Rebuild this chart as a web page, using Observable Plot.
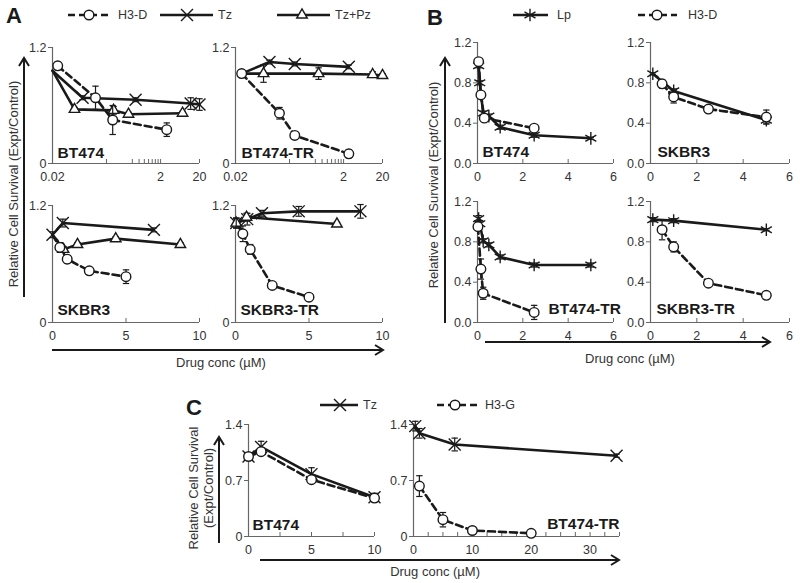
<!DOCTYPE html>
<html>
<head>
<meta charset="utf-8">
<script src="https://cdn.jsdelivr.net/npm/d3@7"></script>
<script src="https://cdn.jsdelivr.net/npm/@observablehq/plot@0.6"></script>
<style>
  html, body { margin: 0; padding: 0; background: #fff; }
  #root { position: relative; width: 800px; height: 583px; overflow: hidden; background: #fff;
          font-family: "Liberation Sans", Arial, Helvetica, sans-serif; }
  #root svg.panel { position: absolute; }
</style>
</head>
<body>
<div id="root"></div>
<script>
// ---------------- DATA ----------------
// Panel A (log x), BT474
const aBT474_H3D_x = [0.025, 0.125, 0.26, 2.6];
const aBT474_H3D_y = [1.01, 0.68, 0.45, 0.35];
const aBT474_H3D_e = [0.04, 0.12, 0.15, 0.07];
const aBT474_Tz_x = [0.02, 0.072, 0.69, 7.2, 10.5];
const aBT474_Tz_y = [0.96, 0.68, 0.66, 0.62, 0.61];
const aBT474_Tz_e = [0, 0.02, 0.02, 0.06, 0.06];
const aBT474_TzPz_x = [0.02, 0.051, 0.27, 0.51, 5.1];
const aBT474_TzPz_y = [0.96, 0.56, 0.55, 0.51, 0.52];
const aBT474_TzPz_e = [0, 0.02, 0.04, 0.02, 0.02];
// Panel A (log x), BT474-TR
const aBT474TR_H3D_x = [0.026, 0.13, 0.25, 2.5];
const aBT474TR_H3D_y = [0.93, 0.52, 0.29, 0.10];
const aBT474TR_H3D_e = [0.04, 0.06, 0.04, 0.04];
const aBT474TR_Tz_x = [0.026, 0.085, 0.25, 2.5];
const aBT474TR_Tz_y = [0.93, 1.05, 1.03, 1.0];
const aBT474TR_Tz_e = [0, 0.02, 0.02, 0.02];
const aBT474TR_TzPz_x = [0.026, 0.066, 0.69, 6.9, 10.5];
const aBT474TR_TzPz_y = [0.93, 0.93, 0.93, 0.92, 0.91];
const aBT474TR_TzPz_e = [0, 0.09, 0.06, 0.03, 0.02];
// Panel A, SKBR3
const aSKBR3_Tz_x = [0, 0.7, 6.9];
const aSKBR3_Tz_y = [0.9, 1.02, 0.95];
const aSKBR3_Tz_e = [0.03, 0.04, 0.02];
const aSKBR3_TzPz_x = [0, 0.75, 1.7, 4.3, 8.7];
const aSKBR3_TzPz_y = [0.9, 0.75, 0.80, 0.86, 0.80];
const aSKBR3_TzPz_e = [0, 0.03, 0.02, 0.02, 0.02];
const aSKBR3_H3D_x = [0, 0.5, 1, 2.5, 5];
const aSKBR3_H3D_y = [0.9, 0.77, 0.65, 0.53, 0.47];
const aSKBR3_H3D_e = [0, 0.05, 0.04, 0.03, 0.07];
// Panel A, SKBR3-TR
const aSKBR3TR_Tz_x = [0.05, 0.8, 1.8, 4.3, 8.5];
const aSKBR3TR_Tz_y = [1.02, 1.06, 1.12, 1.14, 1.14];
const aSKBR3TR_Tz_e = [0.05, 0.06, 0.03, 0.05, 0.07];
const aSKBR3TR_TzPz_x = [0.05, 0.75, 6.9];
const aSKBR3TR_TzPz_y = [1.02, 1.08, 1.01];
const aSKBR3TR_TzPz_e = [0.05, 0.04, 0.02];
const aSKBR3TR_H3D_x = [0.05, 0.5, 1, 2.5, 5];
const aSKBR3TR_H3D_y = [1.02, 0.91, 0.75, 0.38, 0.26];
const aSKBR3TR_H3D_e = [0.05, 0.08, 0.05, 0.02, 0.02];
// Panel B, BT474
const bBT474_Lp_x = [0.05, 0.1, 0.25, 0.5, 1, 2.5, 5];
const bBT474_Lp_y = [0.97, 0.80, 0.50, 0.47, 0.36, 0.28, 0.25];
const bBT474_Lp_e = [0.02, 0.02, 0.02, 0.02, 0.02, 0.02, 0.01];
const bBT474_H3D_x = [0.05, 0.15, 0.3, 2.5];
const bBT474_H3D_y = [1.01, 0.68, 0.45, 0.35];
const bBT474_H3D_e = [0.02, 0.02, 0.02, 0.02];
// Panel B, SKBR3
const bSKBR3_Lp_x = [0.1, 1, 5];
const bSKBR3_Lp_y = [0.89, 0.72, 0.43];
const bSKBR3_Lp_e = [0.01, 0.02, 0.03];
const bSKBR3_H3D_x = [0.5, 1, 2.5, 5];
const bSKBR3_H3D_y = [0.79, 0.66, 0.54, 0.46];
const bSKBR3_H3D_e = [0.04, 0.06, 0.03, 0.07];
// Panel B, BT474-TR
const bBT474TR_Lp_x = [0.05, 0.1, 0.25, 0.5, 1, 2.5, 5];
const bBT474TR_Lp_y = [1.03, 0.98, 0.81, 0.77, 0.65, 0.57, 0.57];
const bBT474TR_Lp_e = [0.03, 0.03, 0.02, 0.02, 0.02, 0.02, 0.02];
const bBT474TR_H3D_x = [0.02, 0.15, 0.25, 2.5];
const bBT474TR_H3D_y = [0.95, 0.53, 0.29, 0.10];
const bBT474TR_H3D_e = [0.03, 0.10, 0.06, 0.07];
// Panel B, SKBR3-TR
const bSKBR3TR_Lp_x = [0.1, 1, 5];
const bSKBR3TR_Lp_y = [1.02, 1.01, 0.92];
const bSKBR3TR_Lp_e = [0.02, 0.02, 0.01];
const bSKBR3TR_H3D_x = [0.5, 1, 2.5, 5];
const bSKBR3TR_H3D_y = [0.92, 0.75, 0.39, 0.27];
const bSKBR3TR_H3D_e = [0.10, 0.05, 0.02, 0.02];
// Panel C, BT474
const cBT474_Tz_x = [0, 1, 5, 10];
const cBT474_Tz_y = [1.0, 1.12, 0.78, 0.49];
const cBT474_Tz_e = [0.03, 0.07, 0.08, 0.05];
const cBT474_H3G_x = [0, 1, 5, 10];
const cBT474_H3G_y = [1.0, 1.06, 0.71, 0.48];
const cBT474_H3G_e = [0.03, 0.03, 0.03, 0.05];
// Panel C, BT474-TR
const cBT474TR_Tz_x = [0.3, 1, 7, 34.5];
const cBT474TR_Tz_y = [1.38, 1.29, 1.15, 1.01];
const cBT474TR_Tz_e = [0.06, 0.06, 0.08, 0.02];
const cBT474TR_H3G_x = [1, 5, 10, 20];
const cBT474TR_H3G_y = [0.63, 0.21, 0.075, 0.04];
const cBT474TR_H3G_e = [0.13, 0.09, 0.03, 0.02];

// tick values / labels
const logTickMarks = [0.02, 0.2, 0.6, 0.8, 1.0, 1.2, 1.4, 1.6, 1.8, 2, 10.5];
const logTickValues = [0.02, 2, 10.5];
const logTickLabels = ["0.02", "2", "20"];
const aYTicks = [0, 1.2];
const lin10Ticks = [0, 5, 10];
const bYTicks = [0, 0.4, 0.8, 1.2];
const bXTicks = [0, 2, 4, 6];
const cYTicks = [0, 0.7, 1.4];
const cLTickMarks = [0, 2.5, 5, 7.5, 10];
const cLTicks = [0, 5, 10];
const cRTickMarks = [0, 2.5, 5, 7.5, 10, 12.5, 15, 17.5, 20, 22.5, 25, 27.5, 30, 32.5, 35];
const cRTicks = [0, 10, 20, 30];

const legendA = ["H3-D", "Tz", "Tz+Pz"];
const legendB = ["Lp", "H3-D"];
const legendC = ["Tz", "H3-G"];
const yTitle = "Relative Cell Survival (Expt/Control)";
const yTitleC = ["Relative Cell Survival", "(Expt/Control)"];
const xTitle = "Drug conc (\u00b5M)";

// ---------------- STYLE ----------------
const INK = "#1a1a1a";
const AX = "#666";
const TXT = "#333";
const FONT = "Liberation Sans, Arial, Helvetica, sans-serif";
const STYLES = {
  "H3-D": {dash: "7,4", symbol: "circle", fill: "white", r: 4.8},
  "H3-G": {dash: "7,4", symbol: "circle", fill: "white", r: 4.8},
  "Tz": {dash: null, symbol: "times", fill: "none", r: 5.5},
  "Tz+Pz": {dash: null, symbol: "triangle", fill: "white", r: 3.9},
  "Lp": {dash: null, symbol: "asterisk", fill: "none", r: 6}
};
const capSymbol = {
  draw(ctx, size) { const r = Math.sqrt(size / Math.PI); ctx.moveTo(-r, 0); ctx.lineTo(r, 0); }
};

function rows(xs, ys, es) { return xs.map((x, i) => ({x, y: ys[i], e: es ? es[i] : 0})); }

const root = document.getElementById("root");

function panel(cfg) {
  const {x0, x1, yb, yt} = cfg.frame;
  const mL = 36, mR = 14, mT = 12, mB = 24;
  const fw = x1 - x0, fh = yb - yt;
  const width = fw + mL + mR, height = fh + mT + mB;
  const fmtMap = cfg.xLabels ? new Map(cfg.xTicks.map((v, i) => [v, cfg.xLabels[i]])) : null;
  const marks = [
    Plot.ruleY([cfg.yDomain[0]], {stroke: AX, strokeWidth: 1.2}),
    Plot.ruleX([cfg.xDomain[0]], {stroke: AX, strokeWidth: 1.2}),
    Plot.axisY({ticks: cfg.yTicks, tickFormat: cfg.yFormat, tickSize: 4, tickPadding: 2,
                stroke: AX, fill: TXT, label: null, fontSize: 12.5}),
    Plot.tickX(cfg.xTickMarks, {x: d => d, insetTop: fh - 4, stroke: AX, strokeWidth: 1}),
    Plot.axisX({ticks: cfg.xTicks, tickFormat: fmtMap ? (d => fmtMap.get(d)) : (d => String(d)),
                tickSize: 0, tickPadding: 9, fill: TXT, label: null, fontSize: 12.5})
  ];
  for (const s of cfg.series) {
    const st = STYLES[s.name];
    marks.push(Plot.line(s.data, {x: "x", y: "y", stroke: INK, strokeWidth: 2.6,
      strokeDasharray: st.dash || undefined, curve: "linear"}));
  }
  for (const s of cfg.series) {
    const st = STYLES[s.name];
    const ed = s.data.filter(d => d.e > 0);
    const md = s.skipFirst ? s.data.slice(1) : s.data;
    marks.push(Plot.ruleX(ed, {x: "x", y1: d => d.y - d.e, y2: d => d.y + d.e, stroke: INK, strokeWidth: 1.2}));
    marks.push(Plot.dot(ed, {x: "x", y: d => d.y + d.e, symbol: capSymbol, r: 3.2, stroke: INK, strokeWidth: 1.2}));
    marks.push(Plot.dot(ed, {x: "x", y: d => d.y - d.e, symbol: capSymbol, r: 3.2, stroke: INK, strokeWidth: 1.2}));
    marks.push(Plot.dot(md, {x: "x", y: "y", symbol: st.symbol, r: st.r, fill: st.fill,
      stroke: INK, strokeWidth: 1.4}));
  }
  marks.push(Plot.text([cfg.label.text], {text: d => d, frameAnchor: cfg.label.anchor,
    textAnchor: cfg.label.textAnchor || "start", lineAnchor: "middle", dx: cfg.label.dx, dy: cfg.label.dy,
    fontWeight: "bold", fontSize: 15.5, fill: INK}));
  const svg = Plot.plot({
    width, height, marginLeft: mL, marginRight: mR, marginTop: mT, marginBottom: mB,
    x: {type: cfg.xType || "linear", domain: cfg.xDomain},
    y: {type: "linear", domain: cfg.yDomain},
    style: {background: "transparent", fontFamily: FONT, fontSize: "12.5px", color: TXT, overflow: "visible"},
    marks
  });
  svg.classList.add("panel");
  svg.style.left = (x0 - mL) + "px";
  svg.style.top = (yt - mT) + "px";
  svg.style.maxWidth = "none";
  root.appendChild(svg);
}

const fmtPlain = d => String(d);
const fmt1 = d3.format(".1f");

// ---- Panel A ----
const aLog = {xType: "log", xDomain: [0.02, 10.5], xTickMarks: logTickMarks, xTicks: logTickValues, xLabels: logTickLabels,
  yDomain: [0, 1.2], yTicks: aYTicks, yFormat: fmtPlain};
panel({...aLog, frame: {x0: 52, x1: 199, yb: 163, yt: 47},
  series: [
    {name: "Tz", data: rows(aBT474_Tz_x, aBT474_Tz_y, aBT474_Tz_e), skipFirst: true},
    {name: "Tz+Pz", data: rows(aBT474_TzPz_x, aBT474_TzPz_y, aBT474_TzPz_e), skipFirst: true},
    {name: "H3-D", data: rows(aBT474_H3D_x, aBT474_H3D_y, aBT474_H3D_e)}],
  label: {text: "BT474", anchor: "bottom-left", dx: 5, dy: -10}});
panel({...aLog, frame: {x0: 235, x1: 382, yb: 163, yt: 47},
  series: [
    {name: "Tz", data: rows(aBT474TR_Tz_x, aBT474TR_Tz_y, aBT474TR_Tz_e), skipFirst: true},
    {name: "Tz+Pz", data: rows(aBT474TR_TzPz_x, aBT474TR_TzPz_y, aBT474TR_TzPz_e), skipFirst: true},
    {name: "H3-D", data: rows(aBT474TR_H3D_x, aBT474TR_H3D_y, aBT474TR_H3D_e)}],
  label: {text: "BT474-TR", anchor: "bottom-left", dx: 6, dy: -10}});
const aLin = {xDomain: [0, 10], xTickMarks: lin10Ticks, xTicks: lin10Ticks, yDomain: [0, 1.2], yTicks: aYTicks, yFormat: fmtPlain};
panel({...aLin, frame: {x0: 52, x1: 199, yb: 322, yt: 205},
  series: [
    {name: "Tz", data: rows(aSKBR3_Tz_x, aSKBR3_Tz_y, aSKBR3_Tz_e)},
    {name: "Tz+Pz", data: rows(aSKBR3_TzPz_x, aSKBR3_TzPz_y, aSKBR3_TzPz_e), skipFirst: true},
    {name: "H3-D", data: rows(aSKBR3_H3D_x, aSKBR3_H3D_y, aSKBR3_H3D_e), skipFirst: true}],
  label: {text: "SKBR3", anchor: "bottom-left", dx: 5, dy: -12}});
panel({...aLin, frame: {x0: 235, x1: 382, yb: 322, yt: 205},
  series: [
    {name: "Tz", data: rows(aSKBR3TR_Tz_x, aSKBR3TR_Tz_y, aSKBR3TR_Tz_e)},
    {name: "Tz+Pz", data: rows(aSKBR3TR_TzPz_x, aSKBR3TR_TzPz_y, aSKBR3TR_TzPz_e)},
    {name: "H3-D", data: rows(aSKBR3TR_H3D_x, aSKBR3TR_H3D_y, aSKBR3TR_H3D_e), skipFirst: true}],
  label: {text: "SKBR3-TR", anchor: "bottom-left", dx: 5, dy: -12}});

// ---- Panel B ----
const bLin = {xDomain: [0, 6], xTickMarks: bXTicks, xTicks: bXTicks, yDomain: [0, 1.2], yTicks: bYTicks, yFormat: fmt1};
panel({...bLin, frame: {x0: 477, x1: 613, yb: 163, yt: 42},
  series: [
    {name: "Lp", data: rows(bBT474_Lp_x, bBT474_Lp_y, bBT474_Lp_e)},
    {name: "H3-D", data: rows(bBT474_H3D_x, bBT474_H3D_y, bBT474_H3D_e)}],
  label: {text: "BT474", anchor: "bottom-left", dx: 5, dy: -11}});
panel({...bLin, frame: {x0: 650, x1: 789, yb: 163, yt: 42},
  series: [
    {name: "Lp", data: rows(bSKBR3_Lp_x, bSKBR3_Lp_y, bSKBR3_Lp_e)},
    {name: "H3-D", data: rows(bSKBR3_H3D_x, bSKBR3_H3D_y, bSKBR3_H3D_e)}],
  label: {text: "SKBR3", anchor: "bottom-left", dx: 7, dy: -11}});
panel({...bLin, frame: {x0: 477, x1: 613, yb: 322, yt: 201},
  series: [
    {name: "Lp", data: rows(bBT474TR_Lp_x, bBT474TR_Lp_y, bBT474TR_Lp_e)},
    {name: "H3-D", data: rows(bBT474TR_H3D_x, bBT474TR_H3D_y, bBT474TR_H3D_e)}],
  label: {text: "BT474-TR", anchor: "bottom-left", dx: 71, dy: -13}});
panel({...bLin, frame: {x0: 650, x1: 789, yb: 322, yt: 201},
  series: [
    {name: "Lp", data: rows(bSKBR3TR_Lp_x, bSKBR3TR_Lp_y, bSKBR3TR_Lp_e)},
    {name: "H3-D", data: rows(bSKBR3TR_H3D_x, bSKBR3TR_H3D_y, bSKBR3TR_H3D_e)}],
  label: {text: "SKBR3-TR", anchor: "bottom-left", dx: 6, dy: -13}});

// ---- Panel C ----
panel({xDomain: [0, 10], xTickMarks: cLTickMarks, xTicks: cLTicks, yDomain: [0, 1.4], yTicks: cYTicks, yFormat: fmtPlain,
  frame: {x0: 248, x1: 374, yb: 536, yt: 424},
  series: [
    {name: "Tz", data: rows(cBT474_Tz_x, cBT474_Tz_y, cBT474_Tz_e)},
    {name: "H3-G", data: rows(cBT474_H3G_x, cBT474_H3G_y, cBT474_H3G_e)}],
  label: {text: "BT474", anchor: "bottom-left", dx: 4, dy: -11}});
panel({xDomain: [0, 35], xTickMarks: cRTickMarks, xTicks: cRTicks, yDomain: [0, 1.4], yTicks: cYTicks, yFormat: fmtPlain,
  frame: {x0: 413, x1: 619, yb: 536, yt: 424},
  series: [
    {name: "Tz", data: rows(cBT474TR_Tz_x, cBT474TR_Tz_y, cBT474TR_Tz_e)},
    {name: "H3-G", data: rows(cBT474TR_H3G_x, cBT474TR_H3G_y, cBT474TR_H3G_e)}],
  label: {text: "BT474-TR", anchor: "bottom-right", textAnchor: "end", dx: 0, dy: -12}});

// ---------------- ANNOTATION LAYER (legends, titles, arrows) ----------------
const ov = d3.select(root).append("svg")
  .attr("width", 800).attr("height", 583)
  .style("position", "absolute").style("left", 0).style("top", 0)
  .style("font-family", FONT);

function arrow(x1, y1, x2, y2) {
  ov.append("line").attr("x1", x1).attr("y1", y1).attr("x2", x2).attr("y2", y2)
    .attr("stroke", INK).attr("stroke-width", 2);
  const ang = Math.atan2(y2 - y1, x2 - x1) * 180 / Math.PI;
  ov.append("path").attr("d", "M-8,-5 L0,0 L-8,5").attr("fill", "none").attr("stroke", INK)
    .attr("stroke-width", 2).attr("transform", `translate(${x2},${y2}) rotate(${ang})`);
}
function letter(t, x, y) {
  ov.append("text").attr("x", x).attr("y", y).text(t).attr("font-size", 22).attr("font-weight", "bold").attr("fill", INK);
}
function legendItem(name, lx0, lx1, mx, tx, y) {
  const st = STYLES[name];
  ov.append("line").attr("x1", lx0).attr("x2", lx1).attr("y1", y).attr("y2", y)
    .attr("stroke", INK).attr("stroke-width", 2.6).attr("stroke-dasharray", st.dash);
  const symType = {circle: d3.symbolCircle, times: d3.symbolTimes, triangle: d3.symbolTriangle, asterisk: d3.symbolAsterisk}[st.symbol];
  ov.append("path").attr("d", d3.symbol(symType, Math.PI * st.r * st.r)())
    .attr("transform", `translate(${mx},${y})`).attr("fill", st.fill).attr("stroke", INK).attr("stroke-width", 1.4);
  ov.append("text").attr("x", tx).attr("y", y).attr("dy", "0.35em").text(name)
    .attr("font-size", 12.5).attr("fill", TXT);
}
function yTitleText(lines, x, y) {
  const t = ov.append("text").attr("transform", `translate(${x},${y}) rotate(-90)`)
    .attr("text-anchor", "middle").attr("font-size", 13).attr("fill", TXT);
  lines.forEach((l, i) => t.append("tspan").attr("x", 0).attr("dy", i === 0 ? "0.35em" : "1.2em").text(l));
}

// Panel A annotations
letter("A", 6, 23);
legendItem(legendA[0], 68, 112, 89, 118, 15);
legendItem(legendA[1], 160, 213, 187, 218, 15);
legendItem(legendA[2], 277, 330, 302, 335, 15);
yTitleText([yTitle], 13, 184);
arrow(24, 297, 24, 58);
arrow(52, 350, 383, 350);
ov.append("text").attr("x", 221).attr("y", 362).attr("dy", "0.35em").attr("text-anchor", "middle")
  .attr("font-size", 13).attr("fill", TXT).text(xTitle);

// Panel B annotations
letter("B", 427, 25);
legendItem(legendB[0], 513, 548, 530, 557, 15);
legendItem(legendB[1], 638, 677, 657, 688, 15);
yTitleText([yTitle], 433, 185);
arrow(445, 323, 445, 58);
arrow(485, 342, 770, 342);
ov.append("text").attr("x", 630).attr("y", 358).attr("dy", "0.35em").attr("text-anchor", "middle")
  .attr("font-size", 13).attr("fill", TXT).text(xTitle);

// Panel C annotations
letter("C", 186, 415);
legendItem(legendC[0], 320, 358, 340, 363, 405);
legendItem(legendC[1], 437, 478, 455, 485, 405);
yTitleText(yTitleC, 193, 488);
arrow(219, 543, 219, 437);
arrow(260, 560, 619, 560);
ov.append("text").attr("x", 480).attr("y", 571).attr("dy", "0.35em").attr("text-anchor", "end")
  .attr("font-size", 13).attr("fill", TXT).text(xTitle);
</script>
</body>
</html>
